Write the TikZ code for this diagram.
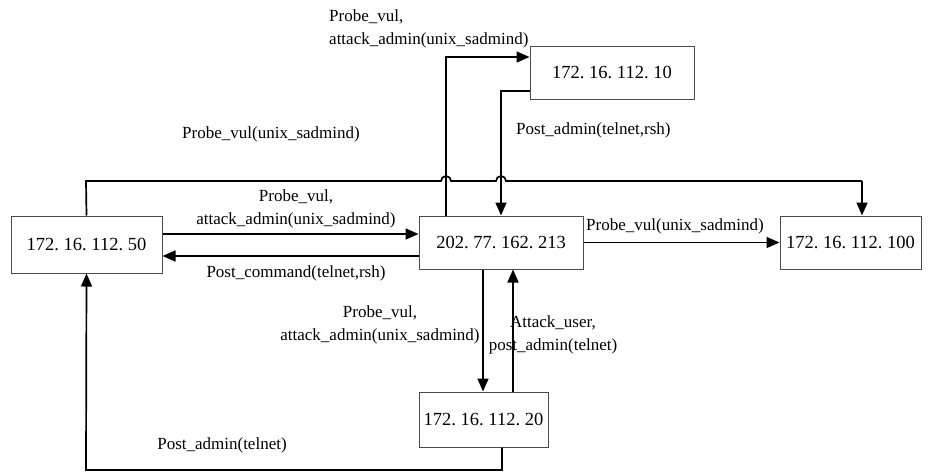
\documentclass[tikz,border=0pt]{standalone}
\usepackage{fontspec}
\setmainfont{Liberation Serif}
\usetikzlibrary{arrows.meta}
% a dot that fills a half-em cell, as in a fixed-width address font
\newcommand\ipdot{\makebox[0.5em][l]{.}}
\tikzset{
  host/.style={draw=black!70, line width=1pt, inner sep=0pt,
    font=\fontsize{18.5}{18.5}\selectfont},
  link/.style={line width=1.7pt, -{Triangle[length=13pt,width=11pt]}},
  wire/.style={line width=1.7pt},
  lbl/.style={font=\fontsize{17}{23}\selectfont, inner sep=0pt},
}
\begin{document}
\begin{tikzpicture}[x=1pt,y=-1pt]
\useasboundingbox (0,0) rectangle (938,475);

% hosts
\node[host, minimum width=164pt, minimum height=53pt] (h10)  at (612,72.5)  {172\ipdot16\ipdot112\ipdot10};
\node[host, minimum width=151pt, minimum height=57pt] (h50)  at (86.5,244.5) {172\ipdot16\ipdot112\ipdot50};
\node[host, minimum width=164pt, minimum height=53pt] (h213) at (501,242.5) {202\ipdot77\ipdot162\ipdot213};
\node[host, minimum width=141pt, minimum height=53pt] (h100) at (850.5,242.5) {172\ipdot16\ipdot112\ipdot100};
\node[host, minimum width=129pt, minimum height=55pt] (h20)  at (483.5,419.5) {172\ipdot16\ipdot112\ipdot20};

% corner points of the routed links
\coordinate (c50up)  at (86,181);
\coordinate (c100up) at (862,181);
\coordinate (c213to10) at (446,57);
\coordinate (c10to213) at (501,91);
\coordinate (c20down) at (502,470);
\coordinate (c50down) at (86,470);

% 50 <-> 213
\draw[link] (h50.east |- 0,234) -- (h213.west |- 0,234);
\draw[link] (h213.west |- 0,256) -- (h50.east |- 0,256);

% 213 -> 100
\draw[link] (h213.east) -- (h100.west);

% 50 -> 100 over the top, hopping the two vertical links
\draw[wire] (h50.north) -- (c50up) -- (441,181)
  arc[start angle=180, end angle=0, radius=5pt] -- (496,181)
  arc[start angle=180, end angle=0, radius=5pt] -- (c100up);
\draw[link] (c100up) -- (c100up |- h100.north);

% 213 -> 10
\draw[link] (h213.north -| c213to10) -- (c213to10) -- (c213to10 -| h10.west);
% 10 -> 213
\draw[link] (c10to213 -| h10.west) -- (c10to213) -- (c10to213 |- h213.north);

% 213 <-> 20
\draw[link] (h213.south -| 483,0) -- (h20.north -| 483,0);
\draw[link] (h20.north -| 513,0) -- (h213.south -| 513,0);

% 20 -> 50 underneath
\draw[link] (h20.south -| c20down) -- (c20down) -- (c50down) -- (h50.south);

% labels
\node[lbl, align=left, anchor=north west] at (329,9) {Probe\_vul,\\attack\_admin(unix\_sadmind)};
\node[lbl] at (271,134) {Probe\_vul(unix\_sadmind)};
\node[lbl, anchor=west] at (516,130) {Post\_admin(telnet,rsh)};
\node[lbl, align=center] at (296,209) {Probe\_vul,\\attack\_admin(unix\_sadmind)};
\node[lbl] at (296,273) {Post\_command(telnet,rsh)};
\node[lbl, anchor=west] at (586,226) {Probe\_vul(unix\_sadmind)};
\node[lbl, align=center] at (380,325) {Probe\_vul,\\attack\_admin(unix\_sadmind)};
\node[lbl, align=center] at (553,335) {Attack\_user,\\post\_admin(telnet)};
\node[lbl] at (222,445) {Post\_admin(telnet)};
\end{tikzpicture}
\end{document}
